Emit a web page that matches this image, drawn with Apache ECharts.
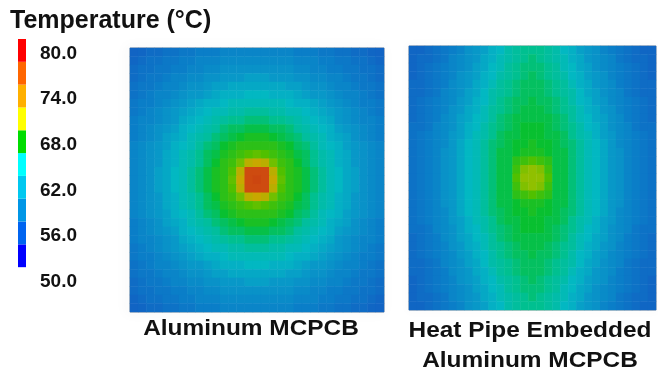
<!DOCTYPE html>
<html>
<head>
<meta charset="utf-8">
<script src="https://cdn.jsdelivr.net/npm/echarts@6/dist/echarts.min.js"></script>
<style>
  html, body { margin: 0; padding: 0; background: #fff; }
  #chart { width: 658px; height: 375px; }
</style>
</head>
<body>
<div id="chart"></div>
<script>
// legend scale, bottom to top (50.0 sits below the bar)
const legendCats = ["50.0", "53.0", "56.0", "59.0", "62.0", "65.0", "68.0", "71.0", "74.0", "77.0", "80.0"];
const legendSteps = ["-", 1, 1, 1, 1, 1, 1, 1, 1, 1, 1];
const legendColors = ["#0000ff", "#0000ff", "#0064f0", "#0096e6", "#00c8f0", "#00ffff", "#00dd00", "#ffff00", "#ffb000", "#ff6600", "#ff0000"];

const plateLabels = ["Aluminum MCPCB", "Heat Pipe Embedded\nAluminum MCPCB"];

// temperature (°C), rows top to bottom
const alTemps = [
  [55.5, 56, 56.5, 56.5, 57, 57, 57.5, 57.5, 58, 58, 58, 58.5, 58.5, 58.5, 58.5, 58.5, 58.5, 58.5, 58.5, 58.5, 58, 58, 58, 57.5, 57.5, 57, 57, 56.5, 56.5, 56, 55.5],
  [56, 56.5, 57, 57, 57.5, 57.5, 58, 58, 58.5, 58.5, 58.5, 59, 59, 59, 59, 59, 59, 59, 59, 59, 58.5, 58.5, 58.5, 58, 58, 57.5, 57.5, 57, 57, 56.5, 56],
  [56.5, 57, 57, 57.5, 57.5, 58, 58, 58.5, 58.5, 59, 59, 59.5, 59.5, 59.5, 59.5, 59.5, 59.5, 59.5, 59.5, 59.5, 59, 59, 58.5, 58.5, 58, 58, 57.5, 57.5, 57, 57, 56.5],
  [56.5, 57, 57.5, 57.5, 58, 58.5, 58.5, 59, 59, 59.5, 59.5, 60, 60, 60, 60.5, 60.5, 60.5, 60, 60, 60, 59.5, 59.5, 59, 59, 58.5, 58.5, 58, 57.5, 57.5, 57, 56.5],
  [57, 57.5, 57.5, 58, 58.5, 58.5, 59, 59.5, 59.5, 60, 60.5, 60.5, 61, 61, 61, 61, 61, 61, 61, 60.5, 60.5, 60, 59.5, 59.5, 59, 58.5, 58.5, 58, 57.5, 57.5, 57],
  [57, 57.5, 58, 58.5, 58.5, 59, 59.5, 60, 60, 60.5, 61, 61.5, 61.5, 61.5, 62, 62, 62, 61.5, 61.5, 61.5, 61, 60.5, 60, 60, 59.5, 59, 58.5, 58.5, 58, 57.5, 57],
  [57.5, 58, 58, 58.5, 59, 59.5, 60, 60.5, 61, 61.5, 61.5, 62, 62.5, 62.5, 62.5, 62.5, 62.5, 62.5, 62.5, 62, 61.5, 61.5, 61, 60.5, 60, 59.5, 59, 58.5, 58, 58, 57.5],
  [57.5, 58, 58.5, 59, 59.5, 60, 60.5, 61, 61.5, 62, 62.5, 62.5, 63, 63, 63.5, 63.5, 63.5, 63, 63, 62.5, 62.5, 62, 61.5, 61, 60.5, 60, 59.5, 59, 58.5, 58, 57.5],
  [58, 58.5, 58.5, 59, 59.5, 60, 61, 61.5, 62, 62.5, 63, 63.5, 64, 64, 64.5, 64.5, 64.5, 64, 64, 63.5, 63, 62.5, 62, 61.5, 61, 60, 59.5, 59, 58.5, 58.5, 58],
  [58, 58.5, 59, 59.5, 60, 60.5, 61.5, 62, 62.5, 63, 63.5, 64.5, 65, 65, 65.5, 65.5, 65.5, 65, 65, 64.5, 63.5, 63, 62.5, 62, 61.5, 60.5, 60, 59.5, 59, 58.5, 58],
  [58, 58.5, 59, 59.5, 60.5, 61, 61.5, 62.5, 63, 63.5, 64.5, 65, 65.5, 66, 66.5, 66.5, 66.5, 66, 65.5, 65, 64.5, 63.5, 63, 62.5, 61.5, 61, 60.5, 59.5, 59, 58.5, 58],
  [58.5, 59, 59.5, 60, 60.5, 61.5, 62, 62.5, 63.5, 64.5, 65, 66, 66.5, 67, 67, 67, 67, 67, 66.5, 66, 65, 64.5, 63.5, 62.5, 62, 61.5, 60.5, 60, 59.5, 59, 58.5],
  [58.5, 59, 59.5, 60, 61, 61.5, 62.5, 63, 64, 65, 65.5, 66.5, 67, 67.5, 68, 68.5, 68, 67.5, 67, 66.5, 65.5, 65, 64, 63, 62.5, 61.5, 61, 60, 59.5, 59, 58.5],
  [58.5, 59, 59.5, 60, 61, 61.5, 62.5, 63, 64, 65, 66, 67, 67.5, 69, 71.5, 72, 71.5, 69, 67.5, 67, 66, 65, 64, 63, 62.5, 61.5, 61, 60, 59.5, 59, 58.5],
  [58.5, 59, 59.5, 60.5, 61, 62, 62.5, 63.5, 64.5, 65.5, 66.5, 67, 68, 71.5, 76.5, 76.5, 76.5, 71.5, 68, 67, 66.5, 65.5, 64.5, 63.5, 62.5, 62, 61, 60.5, 59.5, 59, 58.5],
  [58.5, 59, 59.5, 60.5, 61, 62, 62.5, 63.5, 64.5, 65.5, 66.5, 67, 68.5, 72, 76.5, 77, 76.5, 72, 68.5, 67, 66.5, 65.5, 64.5, 63.5, 62.5, 62, 61, 60.5, 59.5, 59, 58.5],
  [58.5, 59, 59.5, 60.5, 61, 62, 62.5, 63.5, 64.5, 65.5, 66.5, 67, 68, 71.5, 76.5, 76.5, 76.5, 71.5, 68, 67, 66.5, 65.5, 64.5, 63.5, 62.5, 62, 61, 60.5, 59.5, 59, 58.5],
  [58.5, 59, 59.5, 60, 61, 61.5, 62.5, 63, 64, 65, 66, 67, 67.5, 69, 71.5, 72, 71.5, 69, 67.5, 67, 66, 65, 64, 63, 62.5, 61.5, 61, 60, 59.5, 59, 58.5],
  [58.5, 59, 59.5, 60, 61, 61.5, 62.5, 63, 64, 65, 65.5, 66.5, 67, 67.5, 68, 68.5, 68, 67.5, 67, 66.5, 65.5, 65, 64, 63, 62.5, 61.5, 61, 60, 59.5, 59, 58.5],
  [58.5, 59, 59.5, 60, 60.5, 61.5, 62, 62.5, 63.5, 64.5, 65, 66, 66.5, 67, 67, 67, 67, 67, 66.5, 66, 65, 64.5, 63.5, 62.5, 62, 61.5, 60.5, 60, 59.5, 59, 58.5],
  [58, 58.5, 59, 59.5, 60.5, 61, 61.5, 62.5, 63, 63.5, 64.5, 65, 65.5, 66, 66.5, 66.5, 66.5, 66, 65.5, 65, 64.5, 63.5, 63, 62.5, 61.5, 61, 60.5, 59.5, 59, 58.5, 58],
  [58, 58.5, 59, 59.5, 60, 60.5, 61.5, 62, 62.5, 63, 63.5, 64.5, 65, 65, 65.5, 65.5, 65.5, 65, 65, 64.5, 63.5, 63, 62.5, 62, 61.5, 60.5, 60, 59.5, 59, 58.5, 58],
  [58, 58.5, 58.5, 59, 59.5, 60, 61, 61.5, 62, 62.5, 63, 63.5, 64, 64, 64.5, 64.5, 64.5, 64, 64, 63.5, 63, 62.5, 62, 61.5, 61, 60, 59.5, 59, 58.5, 58.5, 58],
  [57.5, 58, 58.5, 59, 59.5, 60, 60.5, 61, 61.5, 62, 62.5, 62.5, 63, 63, 63.5, 63.5, 63.5, 63, 63, 62.5, 62.5, 62, 61.5, 61, 60.5, 60, 59.5, 59, 58.5, 58, 57.5],
  [57.5, 58, 58, 58.5, 59, 59.5, 60, 60.5, 61, 61.5, 61.5, 62, 62.5, 62.5, 62.5, 62.5, 62.5, 62.5, 62.5, 62, 61.5, 61.5, 61, 60.5, 60, 59.5, 59, 58.5, 58, 58, 57.5],
  [57, 57.5, 58, 58.5, 58.5, 59, 59.5, 60, 60, 60.5, 61, 61.5, 61.5, 61.5, 62, 62, 62, 61.5, 61.5, 61.5, 61, 60.5, 60, 60, 59.5, 59, 58.5, 58.5, 58, 57.5, 57],
  [57, 57.5, 57.5, 58, 58.5, 58.5, 59, 59.5, 59.5, 60, 60.5, 60.5, 61, 61, 61, 61, 61, 61, 61, 60.5, 60.5, 60, 59.5, 59.5, 59, 58.5, 58.5, 58, 57.5, 57.5, 57],
  [56.5, 57, 57.5, 57.5, 58, 58.5, 58.5, 59, 59, 59.5, 59.5, 60, 60, 60, 60.5, 60.5, 60.5, 60, 60, 60, 59.5, 59.5, 59, 59, 58.5, 58.5, 58, 57.5, 57.5, 57, 56.5],
  [56.5, 57, 57, 57.5, 57.5, 58, 58, 58.5, 58.5, 59, 59, 59.5, 59.5, 59.5, 59.5, 59.5, 59.5, 59.5, 59.5, 59.5, 59, 59, 58.5, 58.5, 58, 58, 57.5, 57.5, 57, 57, 56.5],
  [56, 56.5, 57, 57, 57.5, 57.5, 58, 58, 58.5, 58.5, 58.5, 59, 59, 59, 59, 59, 59, 59, 59, 59, 58.5, 58.5, 58.5, 58, 58, 57.5, 57.5, 57, 57, 56.5, 56],
  [55.5, 56, 56.5, 56.5, 57, 57, 57.5, 57.5, 58, 58, 58, 58.5, 58.5, 58.5, 58.5, 58.5, 58.5, 58.5, 58.5, 58.5, 58, 58, 58, 57.5, 57.5, 57, 57, 56.5, 56.5, 56, 55.5]
];

// temperature (°C), rows top to bottom
const hpTemps = [
  [56, 56, 56.5, 57, 57.5, 58, 58.5, 59.5, 60, 60.5, 61.5, 62, 63, 63.5, 64, 64, 64, 63.5, 63, 62, 61.5, 60.5, 60, 59.5, 58.5, 58, 57.5, 57, 56.5, 56, 56],
  [56, 56.5, 56.5, 57, 57.5, 58.5, 59, 59.5, 60, 61, 61.5, 62.5, 63, 63.5, 64, 64.5, 64, 63.5, 63, 62.5, 61.5, 61, 60, 59.5, 59, 58.5, 57.5, 57, 56.5, 56.5, 56],
  [56, 56.5, 57, 57.5, 58, 58.5, 59, 59.5, 60.5, 61, 62, 62.5, 63.5, 64, 64.5, 64.5, 64.5, 64, 63.5, 62.5, 62, 61, 60.5, 59.5, 59, 58.5, 58, 57.5, 57, 56.5, 56],
  [56, 56.5, 57, 57.5, 58, 58.5, 59.5, 60, 60.5, 61.5, 62, 63, 63.5, 64, 64.5, 65, 64.5, 64, 63.5, 63, 62, 61.5, 60.5, 60, 59.5, 58.5, 58, 57.5, 57, 56.5, 56],
  [56.5, 56.5, 57, 57.5, 58, 59, 59.5, 60, 61, 61.5, 62.5, 63.5, 64, 64.5, 65, 65, 65, 64.5, 64, 63.5, 62.5, 61.5, 61, 60, 59.5, 59, 58, 57.5, 57, 56.5, 56.5],
  [56.5, 56.5, 57, 57.5, 58.5, 59, 59.5, 60.5, 61, 62, 63, 63.5, 64, 64.5, 65, 65, 65, 64.5, 64, 63.5, 63, 62, 61, 60.5, 59.5, 59, 58.5, 57.5, 57, 56.5, 56.5],
  [56.5, 57, 57.5, 58, 58.5, 59, 60, 60.5, 61.5, 62, 63, 64, 64.5, 65, 65, 65.5, 65, 65, 64.5, 64, 63, 62, 61.5, 60.5, 60, 59, 58.5, 58, 57.5, 57, 56.5],
  [56.5, 57, 57.5, 58, 58.5, 59.5, 60, 61, 61.5, 62.5, 63.5, 64, 64.5, 65, 65.5, 65.5, 65.5, 65, 64.5, 64, 63.5, 62.5, 61.5, 61, 60, 59.5, 58.5, 58, 57.5, 57, 56.5],
  [56.5, 57, 57.5, 58, 59, 59.5, 60.5, 61, 62, 62.5, 63.5, 64.5, 65, 65.5, 65.5, 65.5, 65.5, 65.5, 65, 64.5, 63.5, 62.5, 62, 61, 60.5, 59.5, 59, 58, 57.5, 57, 56.5],
  [57, 57, 57.5, 58.5, 59, 59.5, 60.5, 61.5, 62, 63, 64, 64.5, 65, 65.5, 66, 66, 66, 65.5, 65, 64.5, 64, 63, 62, 61.5, 60.5, 59.5, 59, 58.5, 57.5, 57, 57],
  [57, 57.5, 58, 58.5, 59, 60, 60.5, 61.5, 62.5, 63, 64, 65, 65.5, 65.5, 66, 66, 66, 65.5, 65.5, 65, 64, 63, 62.5, 61.5, 60.5, 60, 59, 58.5, 58, 57.5, 57],
  [57, 57.5, 58, 58.5, 59, 60, 61, 62, 62.5, 63.5, 64.5, 65, 65.5, 66, 66, 66.5, 66, 66, 65.5, 65, 64.5, 63.5, 62.5, 62, 61, 60, 59, 58.5, 58, 57.5, 57],
  [57, 57.5, 58, 58.5, 59.5, 60, 61, 62, 62.5, 63.5, 64.5, 65.5, 65.5, 66, 66.5, 66.5, 66.5, 66, 65.5, 65.5, 64.5, 63.5, 62.5, 62, 61, 60, 59.5, 58.5, 58, 57.5, 57],
  [57, 57.5, 58, 58.5, 59.5, 60, 61, 62, 62.5, 63.5, 64.5, 65.5, 65.5, 67, 67.5, 68, 67.5, 67, 65.5, 65.5, 64.5, 63.5, 62.5, 62, 61, 60, 59.5, 58.5, 58, 57.5, 57],
  [57, 57.5, 58, 58.5, 59.5, 60, 61, 62, 62.5, 63.5, 64.5, 65.5, 65.5, 67.5, 69.5, 70, 69.5, 67.5, 65.5, 65.5, 64.5, 63.5, 62.5, 62, 61, 60, 59.5, 58.5, 58, 57.5, 57],
  [57, 57.5, 58, 58.5, 59.5, 60, 61, 62, 62.5, 63.5, 64.5, 65.5, 65.5, 68, 70, 70, 70, 68, 65.5, 65.5, 64.5, 63.5, 62.5, 62, 61, 60, 59.5, 58.5, 58, 57.5, 57],
  [57, 57.5, 58, 58.5, 59.5, 60, 61, 62, 62.5, 63.5, 64.5, 65.5, 65.5, 67.5, 69.5, 70, 69.5, 67.5, 65.5, 65.5, 64.5, 63.5, 62.5, 62, 61, 60, 59.5, 58.5, 58, 57.5, 57],
  [57, 57.5, 58, 58.5, 59.5, 60, 61, 62, 62.5, 63.5, 64.5, 65.5, 65.5, 67, 67.5, 68, 67.5, 67, 65.5, 65.5, 64.5, 63.5, 62.5, 62, 61, 60, 59.5, 58.5, 58, 57.5, 57],
  [57, 57.5, 58, 58.5, 59.5, 60, 61, 62, 62.5, 63.5, 64.5, 65.5, 65.5, 66, 66.5, 66.5, 66.5, 66, 65.5, 65.5, 64.5, 63.5, 62.5, 62, 61, 60, 59.5, 58.5, 58, 57.5, 57],
  [57, 57.5, 58, 58.5, 59, 60, 61, 62, 62.5, 63.5, 64.5, 65, 65.5, 66, 66, 66.5, 66, 66, 65.5, 65, 64.5, 63.5, 62.5, 62, 61, 60, 59, 58.5, 58, 57.5, 57],
  [57, 57.5, 58, 58.5, 59, 60, 60.5, 61.5, 62.5, 63, 64, 65, 65.5, 65.5, 66, 66, 66, 65.5, 65.5, 65, 64, 63, 62.5, 61.5, 60.5, 60, 59, 58.5, 58, 57.5, 57],
  [57, 57, 57.5, 58.5, 59, 59.5, 60.5, 61.5, 62, 63, 64, 64.5, 65, 65.5, 66, 66, 66, 65.5, 65, 64.5, 64, 63, 62, 61.5, 60.5, 59.5, 59, 58.5, 57.5, 57, 57],
  [56.5, 57, 57.5, 58, 59, 59.5, 60.5, 61, 62, 62.5, 63.5, 64.5, 65, 65.5, 65.5, 65.5, 65.5, 65.5, 65, 64.5, 63.5, 62.5, 62, 61, 60.5, 59.5, 59, 58, 57.5, 57, 56.5],
  [56.5, 57, 57.5, 58, 58.5, 59.5, 60, 61, 61.5, 62.5, 63.5, 64, 64.5, 65, 65.5, 65.5, 65.5, 65, 64.5, 64, 63.5, 62.5, 61.5, 61, 60, 59.5, 58.5, 58, 57.5, 57, 56.5],
  [56.5, 57, 57.5, 58, 58.5, 59, 60, 60.5, 61.5, 62, 63, 64, 64.5, 65, 65, 65.5, 65, 65, 64.5, 64, 63, 62, 61.5, 60.5, 60, 59, 58.5, 58, 57.5, 57, 56.5],
  [56.5, 56.5, 57, 57.5, 58.5, 59, 59.5, 60.5, 61, 62, 63, 63.5, 64, 64.5, 65, 65, 65, 64.5, 64, 63.5, 63, 62, 61, 60.5, 59.5, 59, 58.5, 57.5, 57, 56.5, 56.5],
  [56.5, 56.5, 57, 57.5, 58, 59, 59.5, 60, 61, 61.5, 62.5, 63.5, 64, 64.5, 65, 65, 65, 64.5, 64, 63.5, 62.5, 61.5, 61, 60, 59.5, 59, 58, 57.5, 57, 56.5, 56.5],
  [56, 56.5, 57, 57.5, 58, 58.5, 59.5, 60, 60.5, 61.5, 62, 63, 63.5, 64, 64.5, 65, 64.5, 64, 63.5, 63, 62, 61.5, 60.5, 60, 59.5, 58.5, 58, 57.5, 57, 56.5, 56],
  [56, 56.5, 57, 57.5, 58, 58.5, 59, 59.5, 60.5, 61, 62, 62.5, 63.5, 64, 64.5, 64.5, 64.5, 64, 63.5, 62.5, 62, 61, 60.5, 59.5, 59, 58.5, 58, 57.5, 57, 56.5, 56],
  [56, 56.5, 56.5, 57, 57.5, 58.5, 59, 59.5, 60, 61, 61.5, 62.5, 63, 63.5, 64, 64.5, 64, 63.5, 63, 62.5, 61.5, 61, 60, 59.5, 59, 58.5, 57.5, 57, 56.5, 56.5, 56],
  [56, 56, 56.5, 57, 57.5, 58, 58.5, 59.5, 60, 60.5, 61.5, 62, 63, 63.5, 64, 64, 64, 63.5, 63, 62, 61.5, 60.5, 60, 59.5, 58.5, 58, 57.5, 57, 56.5, 56, 56]
];

// rendered (muted) colours of the simulation maps, 50..80 every 2 °C
const mapColors = [
  "#1a40c0", "#1850c0", "#155cc2", "#1066c4", "#0a7ec8", "#0898c8", "#02b8c2", "#00c090",
  "#08c030", "#50c000", "#90c000", "#c8a800", "#d88000", "#d05010", "#c83c10", "#c02010"
];

const FONT = "Liberation Sans, Arial, sans-serif";

function toCells(rows) {
  const cells = [];
  rows.forEach((row, y) => {
    row.forEach((v, x) => cells.push([x, y, v]));
  });
  return cells;
}

function idxAxis(n, gridIndex, inverse) {
  return {
    type: "category",
    gridIndex: gridIndex,
    data: Array.from({ length: n }, (_, i) => i),
    inverse: !!inverse,
    show: false,
  };
}

const chart = echarts.init(document.getElementById("chart"), null, { renderer: "canvas" });

const option = {
  animation: false,
  backgroundColor: "#ffffff",
  title: {
    text: "Temperature (°C)",
    left: 5,
    top: 4,
    textStyle: { fontFamily: FONT, fontSize: 25, fontWeight: "bold", color: "#111" },
  },
  grid: [
    // legend bar
    { left: 18, top: 39, width: 8, height: 251 },
    // aluminum plate
    {
      left: 130, top: 48, width: 254, height: 264,
      show: true, borderColor: "#9a9a9a", borderWidth: 1,
      shadowColor: "rgba(0,0,0,0.18)", shadowBlur: 12, shadowOffsetX: -2,
    },
    // heat pipe plate
    {
      left: 409, top: 46, width: 247, height: 264,
      show: true, borderColor: "#9a9a9a", borderWidth: 1,
      shadowColor: "rgba(0,0,0,0.12)", shadowBlur: 8,
    },
  ],
  xAxis: [
    { type: "value", gridIndex: 0, min: 0, max: 1, show: false },
    idxAxis(alTemps[0].length, 1),
    idxAxis(hpTemps[0].length, 2),
  ],
  yAxis: [
    {
      type: "category",
      gridIndex: 0,
      data: legendCats,
      position: "right",
      axisLine: { show: false },
      axisTick: { show: false },
      splitLine: { show: false },
      axisLabel: {
        interval: 1,
        margin: 14,
        formatter: "{t|{value}}",
        rich: {
          t: {
            padding: [6, 0, 0, 0],
            fontFamily: FONT,
            fontSize: 19,
            fontWeight: "bold",
            color: "#111",
          },
        },
      },
    },
    idxAxis(alTemps.length, 1, true),
    idxAxis(hpTemps.length, 2, true),
  ],
  visualMap: {
    type: "continuous",
    show: false,
    min: 50,
    max: 80,
    dimension: 2,
    seriesIndex: [1, 2],
    inRange: { color: mapColors },
  },
  series: [
    {
      type: "bar",
      xAxisIndex: 0,
      yAxisIndex: 0,
      barWidth: "100%",
      barCategoryGap: "0%",
      silent: true,
      data: legendSteps.map((v, i) => ({ value: v, itemStyle: { color: legendColors[i] } })),
    },
    {
      type: "heatmap",
      xAxisIndex: 1,
      yAxisIndex: 1,
      silent: true,
      data: toCells(alTemps),
    },
    {
      type: "heatmap",
      xAxisIndex: 2,
      yAxisIndex: 2,
      silent: true,
      data: toCells(hpTemps),
    },
  ],
  graphic: [
    {
      type: "text",
      x: 251,
      y: 329,
      scaleX: 1.11,
      style: {
        text: plateLabels[0],
        font: "bold 22px " + FONT,
        fill: "#111",
        textAlign: "center",
        textVerticalAlign: "middle",
      },
    },
    {
      type: "text",
      x: 530,
      y: 345.5,
      scaleX: 1.11,
      style: {
        text: plateLabels[1],
        font: "bold 22px " + FONT,
        lineHeight: 30,
        fill: "#111",
        textAlign: "center",
        textVerticalAlign: "middle",
      },
    },
  ],
};

chart.setOption(option);
</script>
</body>
</html>
